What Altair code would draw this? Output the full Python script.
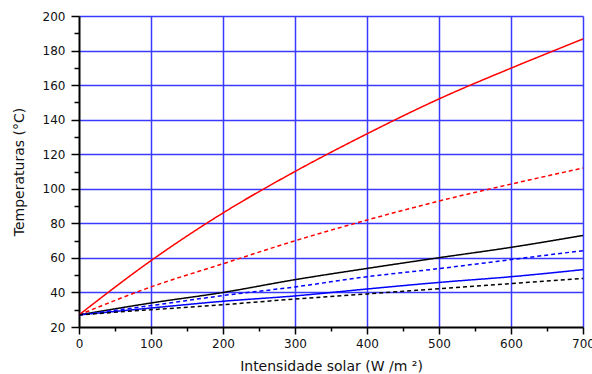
import altair as alt
import pandas as pd

x_vals = [0, 100, 200, 300, 400, 500, 600, 700]
red_solid = [27, 58.4, 86, 110, 131.8, 152, 169.8, 186.7]
red_dashed = [27, 43.2, 56.6, 69.9, 81.9, 92.9, 102.7, 112]
black_solid = [27, 33.9, 40, 47.4, 53.9, 60.1, 66.1, 73]
blue_dashed = [27, 32.4, 38.2, 43.2, 49.1, 53.8, 59, 64.2]
blue_solid = [27, 31, 34.9, 38, 42, 45.8, 49.1, 53.2]
black_dashed = [27, 30, 32.9, 36.2, 39.1, 42.2, 45.1, 48.1]

series = {
    "red_solid": red_solid,
    "red_dashed": red_dashed,
    "black_solid": black_solid,
    "blue_dashed": blue_dashed,
    "blue_solid": blue_solid,
    "black_dashed": black_dashed,
}
names = list(series.keys())
colors = ["#FF0000", "#FF0000", "#000000", "#0000FF", "#0000FF", "#000000"]
dashes = [[1, 0], [4, 3], [1, 0], [4, 3], [1, 0], [4, 3]]

rows = []
for n, vals in series.items():
    for xv, yv in zip(x_vals, vals):
        rows.append({"x": xv, "y": yv, "s": n})
df = pd.DataFrame(rows)

font = "DejaVu Sans"
grid_col = "#3a3aff"

x_axis = alt.Axis(
    title="Intensidade solar (W /m ²)",
    values=list(range(0, 701, 50)),
    labelExpr="datum.value % 100 === 0 ? datum.label : ''",
    tickSize={"condition": {"test": "datum.value % 100 === 0", "value": 7}, "value": 4},
    gridOpacity={"condition": {"test": "datum.value % 100 === 0 && datum.value > 0", "value": 1}, "value": 0},
    grid=True,
    gridColor=grid_col,
    gridWidth=1.5,
    domainColor="black",
    domainWidth=2,
    tickColor="black",
    tickWidth=1.5,
    labelFont=font,
    labelFontSize=12,
    labelColor="#111",
    labelPadding=4,
    titleFont=font,
    titleFontSize=14,
    titleFontWeight="normal",
    titleColor="#111",
    titlePadding=10,
    labelFlush=False,
)
y_axis = alt.Axis(
    title="Temperaturas (°C)",
    values=list(range(20, 201, 10)),
    labelExpr="datum.value % 20 === 0 ? datum.label : ''",
    tickSize={"condition": {"test": "datum.value % 20 === 0", "value": 8}, "value": 5},
    gridOpacity={"condition": {"test": "datum.value % 20 === 0 && datum.value > 20", "value": 1}, "value": 0},
    grid=True,
    gridColor=grid_col,
    gridWidth=1.5,
    domainColor="black",
    domainWidth=2,
    tickColor="black",
    tickWidth=1.5,
    labelFont=font,
    labelFontSize=12,
    labelColor="#111",
    labelPadding=6,
    titleFont=font,
    titleFontSize=14,
    titleFontWeight="normal",
    titleColor="#111",
    titlePadding=16,
    labelFlush=False,
)

chart = (
    alt.Chart(df)
    .mark_line(strokeWidth=1.5, interpolate="monotone")
    .encode(
        x=alt.X("x:Q", scale=alt.Scale(domain=[0, 700], nice=False, zero=False), axis=x_axis),
        y=alt.Y("y:Q", scale=alt.Scale(domain=[20, 200], nice=False, zero=False), axis=y_axis),
        color=alt.Color("s:N", scale=alt.Scale(domain=names, range=colors), legend=None),
        strokeDash=alt.StrokeDash("s:N", scale=alt.Scale(domain=names, range=dashes), legend=None),
        detail="s:N",
    )
    .properties(
        width=504,
        height=311,
        autosize=alt.AutoSizeParams(type="none"),
        padding={"left": 79, "top": 16, "right": 9, "bottom": 47},
        background="white",
    )
    .configure_view(stroke=None)
)

chart.save("out.html", embed_options={"renderer": "svg", "actions": False})
